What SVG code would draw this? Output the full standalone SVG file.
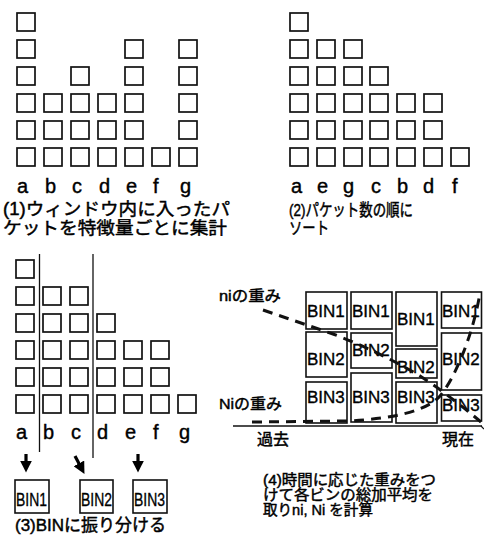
<svg xmlns="http://www.w3.org/2000/svg" width="484" height="537" viewBox="0 0 484 537">
<style>
.sq{fill:none;stroke:#111;stroke-width:1.7}
.bx{fill:#fff;stroke:#111;stroke-width:1.6}
.lb{font-family:"Liberation Sans",Arial,sans-serif;font-size:20px;fill:#000;stroke:#000;stroke-width:0.4}
.jp{font-family:"Liberation Sans","Noto Sans CJK JP",sans-serif;fill:#000;stroke:#000;stroke-width:0.45}
.bin{font-family:"Liberation Sans",Arial,sans-serif;font-size:17px;fill:#000;stroke:#000;stroke-width:0.35}
.div{stroke:#111;stroke-width:1.3}
.arr{stroke:#000;stroke-width:3.2;fill:none}
.dash{fill:none;stroke:#111;stroke-width:3;stroke-dasharray:10 7}
</style>
<defs>
<rect id="sq" width="18" height="18" class="sq"/>
<marker id="ah" viewBox="0 0 10 10" refX="2" refY="5" markerWidth="12" markerHeight="12" markerUnits="userSpaceOnUse" orient="auto">
<path d="M0,0 L10,5 L0,10 z" fill="#000"/>
</marker>
</defs>

<!-- Panel 1 -->
<g id="panel1">
<g id="p1-a"><use href="#sq" x="17" y="13"/><use href="#sq" x="17" y="40"/><use href="#sq" x="17" y="67"/><use href="#sq" x="17" y="94"/><use href="#sq" x="17" y="121"/><use href="#sq" x="17" y="148"/><text class="lb" x="17" y="193">a</text></g>
<g id="p1-b"><use href="#sq" x="44" y="94"/><use href="#sq" x="44" y="121"/><use href="#sq" x="44" y="148"/><text class="lb" x="45" y="193">b</text></g>
<g id="p1-c"><use href="#sq" x="71" y="67"/><use href="#sq" x="71" y="94"/><use href="#sq" x="71" y="121"/><use href="#sq" x="71" y="148"/><text class="lb" x="72" y="193">c</text></g>
<g id="p1-d"><use href="#sq" x="98" y="94"/><use href="#sq" x="98" y="121"/><use href="#sq" x="98" y="148"/><text class="lb" x="99" y="193">d</text></g>
<g id="p1-e"><use href="#sq" x="125" y="40"/><use href="#sq" x="125" y="67"/><use href="#sq" x="125" y="94"/><use href="#sq" x="125" y="121"/><use href="#sq" x="125" y="148"/><text class="lb" x="126" y="193">e</text></g>
<g id="p1-f"><use href="#sq" x="152" y="148"/><text class="lb" x="153" y="193">f</text></g>
<g id="p1-g"><use href="#sq" x="179" y="40"/><use href="#sq" x="179" y="67"/><use href="#sq" x="179" y="94"/><use href="#sq" x="179" y="121"/><use href="#sq" x="179" y="148"/><text class="lb" x="180" y="193">g</text></g>
<g id="cap1">
<text class="jp" font-size="17.5" x="3" y="215" textLength="227" lengthAdjust="spacingAndGlyphs">(1)ウィンドウ内に入ったパ</text>
<text class="jp" font-size="17.5" x="3" y="234" textLength="224" lengthAdjust="spacingAndGlyphs">ケットを特徴量ごとに集計</text>
</g>
</g>

<!-- Panel 2 -->
<g id="panel2">
<g id="p2-a"><use href="#sq" x="290" y="13"/><use href="#sq" x="290" y="40"/><use href="#sq" x="290" y="67"/><use href="#sq" x="290" y="94"/><use href="#sq" x="290" y="121"/><use href="#sq" x="290" y="148"/><text class="lb" x="291" y="193">a</text></g>
<g id="p2-e"><use href="#sq" x="317" y="40"/><use href="#sq" x="317" y="67"/><use href="#sq" x="317" y="94"/><use href="#sq" x="317" y="121"/><use href="#sq" x="317" y="148"/><text class="lb" x="317" y="193">e</text></g>
<g id="p2-g"><use href="#sq" x="344" y="40"/><use href="#sq" x="344" y="67"/><use href="#sq" x="344" y="94"/><use href="#sq" x="344" y="121"/><use href="#sq" x="344" y="148"/><text class="lb" x="343" y="193">g</text></g>
<g id="p2-c"><use href="#sq" x="370" y="67"/><use href="#sq" x="370" y="94"/><use href="#sq" x="370" y="121"/><use href="#sq" x="370" y="148"/><text class="lb" x="371" y="193">c</text></g>
<g id="p2-b"><use href="#sq" x="397" y="94"/><use href="#sq" x="397" y="121"/><use href="#sq" x="397" y="148"/><text class="lb" x="397" y="193">b</text></g>
<g id="p2-d"><use href="#sq" x="424" y="94"/><use href="#sq" x="424" y="121"/><use href="#sq" x="424" y="148"/><text class="lb" x="423" y="193">d</text></g>
<g id="p2-f"><use href="#sq" x="451" y="148"/><text class="lb" x="452" y="193">f</text></g>
<g id="cap2">
<text class="jp" font-size="17" x="289" y="216" textLength="124" lengthAdjust="spacingAndGlyphs">(2)パケット数の順に</text>
<text class="jp" font-size="17" x="289" y="234" textLength="40" lengthAdjust="spacingAndGlyphs">ソート</text>
</g>
</g>

<!-- Panel 3 -->
<g id="panel3">
<g id="p3-a"><use href="#sq" x="16" y="260"/><use href="#sq" x="16" y="287"/><use href="#sq" x="16" y="314"/><use href="#sq" x="16" y="341"/><use href="#sq" x="16" y="368"/><use href="#sq" x="16" y="395"/><text class="lb" x="16" y="439">a</text></g>
<g id="p3-b"><use href="#sq" x="43" y="287"/><use href="#sq" x="43" y="314"/><use href="#sq" x="43" y="341"/><use href="#sq" x="43" y="368"/><use href="#sq" x="43" y="395"/><text class="lb" x="43" y="439">b</text></g>
<g id="p3-c"><use href="#sq" x="70" y="287"/><use href="#sq" x="70" y="314"/><use href="#sq" x="70" y="341"/><use href="#sq" x="70" y="368"/><use href="#sq" x="70" y="395"/><text class="lb" x="71" y="439">c</text></g>
<g id="p3-d"><use href="#sq" x="97" y="314"/><use href="#sq" x="97" y="341"/><use href="#sq" x="97" y="368"/><use href="#sq" x="97" y="395"/><text class="lb" x="97" y="439">d</text></g>
<g id="p3-e"><use href="#sq" x="124" y="341"/><use href="#sq" x="124" y="368"/><use href="#sq" x="124" y="395"/><text class="lb" x="125" y="439">e</text></g>
<g id="p3-f"><use href="#sq" x="151" y="341"/><use href="#sq" x="151" y="368"/><use href="#sq" x="151" y="395"/><text class="lb" x="153" y="439">f</text></g>
<g id="p3-g"><use href="#sq" x="178" y="395"/><text class="lb" x="179" y="439">g</text></g>
<g id="dividers">
<line class="div" x1="39.5" y1="254" x2="39.5" y2="452"/>
<line class="div" x1="93" y1="254" x2="93" y2="458"/>
</g>
<g id="bin1-l"><rect class="bx" x="15" y="480" width="34" height="33"/><text class="bin" style="font-size:19px" x="16" y="506" textLength="31" lengthAdjust="spacingAndGlyphs">BIN1</text></g>
<g id="bin2-l"><rect class="bx" x="80" y="480" width="33" height="33"/><text class="bin" style="font-size:19px" x="81" y="506" textLength="31" lengthAdjust="spacingAndGlyphs">BIN2</text></g>
<g id="bin3-l"><rect class="bx" x="133" y="480" width="34" height="33"/><text class="bin" style="font-size:19px" x="134" y="506" textLength="31" lengthAdjust="spacingAndGlyphs">BIN3</text></g>
<g id="cap3"><text class="jp" font-size="17" x="15" y="531">(3)BINに振り分ける</text></g>
</g>

<g id="connectors">
<path class="arr" d="M26,454 L26,463" marker-end="url(#ah)"/>
<path class="arr" d="M75,456 L80,465.5" marker-end="url(#ah)"/>
<path class="arr" d="M138,454 L138,463" marker-end="url(#ah)"/>
</g>

<!-- Panel 4 -->
<g id="panel4">
<line x1="233" y1="426" x2="482" y2="426" stroke="#111" stroke-width="1.5"/>
<path d="M481,426 L484,429" stroke="#111" stroke-width="1.2" fill="none"/>
<g id="c1">
<g id="c1-bin1"><rect class="bx" x="306" y="292" width="41" height="37"/><text class="bin" x="307" y="317">BIN1</text></g>
<g id="c1-bin2"><rect class="bx" x="306" y="332" width="41" height="45"/><text class="bin" x="307" y="365">BIN2</text></g>
<g id="c1-bin3"><rect class="bx" x="306" y="382" width="41" height="41"/><text class="bin" x="307" y="403">BIN3</text></g>
</g>
<g id="c2">
<g id="c2-bin1"><rect class="bx" x="351" y="292" width="41" height="37"/><text class="bin" x="352" y="317">BIN1</text></g>
<g id="c2-bin2"><rect class="bx" x="351" y="333" width="41" height="35"/><text class="bin" x="352" y="356">BIN2</text></g>
<g id="c2-bin3"><rect class="bx" x="351" y="373" width="41" height="49"/><text class="bin" x="352" y="403">BIN3</text></g>
</g>
<g id="c3">
<g id="c3-bin1"><rect class="bx" x="396" y="292" width="41" height="54"/><text class="bin" x="397" y="325">BIN1</text></g>
<g id="c3-bin2"><rect class="bx" x="396" y="349" width="41" height="29"/><text class="bin" x="397" y="373">BIN2</text></g>
<g id="c3-bin3"><rect class="bx" x="396" y="382" width="41" height="41"/><text class="bin" x="397" y="403">BIN3</text></g>
</g>
<g id="c4">
<g id="c4-bin1"><rect class="bx" x="441.5" y="292" width="40" height="36"/><text class="bin" x="442" y="317">BIN1</text></g>
<g id="c4-bin2"><rect class="bx" x="441.5" y="333" width="40" height="57"/><text class="bin" x="442" y="365">BIN2</text></g>
<g id="c4-bin3"><rect class="bx" x="441.5" y="395" width="40" height="26"/><text class="bin" x="442" y="411">BIN3</text></g>
</g>
<g id="curves">
<path class="dash" d="M263,310 L333,334 Q380,352 420,376 Q445,392 481,422"/>
<path class="dash" d="M252,422 L347,421 C395,419 428,410 440,396 C455,378 473,335 480,293"/>
</g>
<g id="labels4">
<text class="jp" font-size="15" x="219" y="301" textLength="62" lengthAdjust="spacingAndGlyphs">niの重み</text>
<text class="jp" font-size="15" x="219" y="409" textLength="63" lengthAdjust="spacingAndGlyphs">Niの重み</text>
<text class="jp" font-size="16" x="257" y="445">過去</text>
<text class="jp" font-size="16" x="442" y="445">現在</text>
</g>
<g id="cap4">
<text class="jp" font-size="14.5" x="263" y="485" textLength="173" lengthAdjust="spacingAndGlyphs">(4)時間に応じた重みをつ</text>
<text class="jp" font-size="14.5" x="263" y="500" textLength="170" lengthAdjust="spacingAndGlyphs">けて各ビンの総加平均を</text>
<text class="jp" font-size="14.5" x="263" y="515" textLength="110" lengthAdjust="spacingAndGlyphs">取りni, Ni を計算</text>
</g>
</g>
</svg>
